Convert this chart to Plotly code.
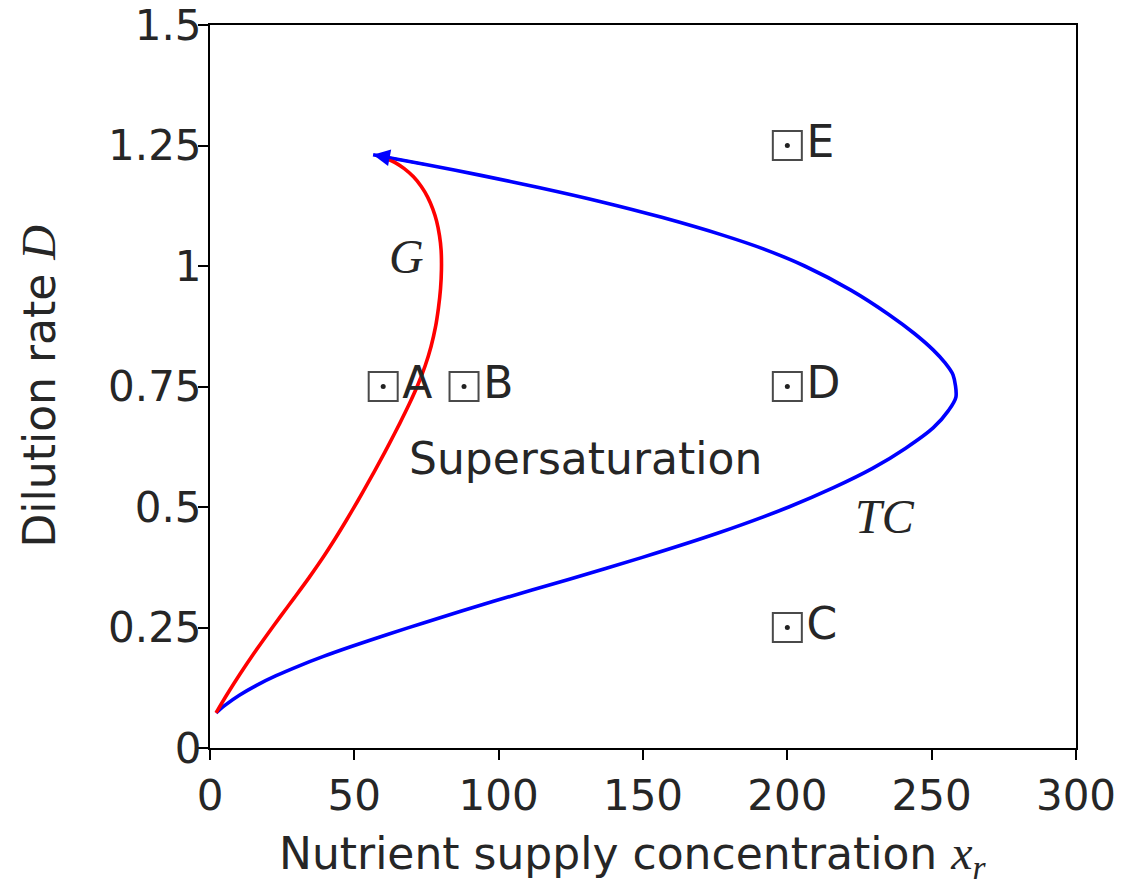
import plotly.graph_objects as go

# Growth boundary G: nutrient supply concentration vs dilution rate
g_xr = [2.1, 6.1, 10.34, 14.82, 19.54, 24.42, 29.38, 34.26, 38.9, 43.22, 47.3, 51.22,
        55.02, 58.7, 62.26, 65.7, 68.98, 71.98, 74.54, 76.58, 78.1, 79.14, 79.86, 80.18,
        80.06, 79.5, 78.5, 77.2, 75.4, 73.2, 70.5, 67.3, 64.3, 61.6, 59.2]
g_d = [0.073, 0.113, 0.153, 0.193, 0.233, 0.273, 0.313, 0.353, 0.393, 0.433, 0.473, 0.513,
       0.553, 0.593, 0.633, 0.673, 0.713, 0.753, 0.793, 0.833, 0.873, 0.913, 0.953, 0.993,
       1.033, 1.063, 1.093, 1.118, 1.143, 1.165, 1.185, 1.202, 1.214, 1.222, 1.228]

# Transcritical boundary TC
tc_xr = [2.1, 5.5, 10.3, 16.1, 22.9, 30.7, 39.3, 48.7, 61.2, 74.2, 98.5, 124.5,
         149.5, 175.5, 200.5, 216.0, 229.5, 241.0, 250.5, 255.8, 258.4, 257.4, 254.5,
         250.5, 244.0, 235.0, 222.0, 206.0, 192.8, 177.6, 156.5, 135.05, 113.85, 93.85,
         75.15, 56.5]
tc_d = [0.073, 0.09, 0.11, 0.13, 0.15, 0.17, 0.19, 0.21, 0.235, 0.26, 0.305, 0.35,
        0.395, 0.445, 0.50, 0.54, 0.58, 0.622, 0.664, 0.70, 0.728, 0.774, 0.80,
        0.826, 0.86, 0.90, 0.95, 1.00, 1.033, 1.064, 1.101, 1.134, 1.163, 1.188,
        1.21, 1.231]

# Operating points
pt_labels = ["A", "B", "C", "D", "E"]
pt_xr = [60, 88, 200, 200, 200]
pt_d = [0.75, 0.75, 0.25, 0.75, 1.25]

x_ticks = [0, 50, 100, 150, 200, 250, 300]
y_ticks = [0, 0.25, 0.5, 0.75, 1, 1.25, 1.5]
y_tick_text = ["0", "0.25", "0.5", "0.75", "1", "1.25", "1.5"]

SANS = "DejaVu Sans"
SERIF = "Liberation Serif"
INK = "#262626"
FS_TICK = 42
FS_TEXT = 44

fig = go.Figure()

fig.add_trace(go.Scatter(x=tc_xr, y=tc_d, mode="lines",
                         line=dict(color="#0000ff", width=3.6, shape="spline",
                                   smoothing=0.8, simplify=False),
                         showlegend=False))
fig.add_trace(go.Scatter(x=g_xr, y=g_d, mode="lines",
                         line=dict(color="#ff0000", width=3.6, shape="spline",
                                   smoothing=0.8, simplify=False),
                         showlegend=False))

# Arrowhead at the end of the TC curve
fig.add_annotation(x=tc_xr[-1], y=tc_d[-1], ax=tc_xr[-2], ay=tc_d[-2],
                   xref="x", yref="y", axref="x", ayref="y",
                   text="", showarrow=True, arrowhead=2, arrowsize=1.4,
                   arrowwidth=2.4, arrowcolor="#0000ff")

# Boxed-dot markers with point labels
fig.add_trace(go.Scatter(
    x=pt_xr, y=pt_d, mode="markers+text",
    marker=dict(symbol="square-open", size=29, color="#4a4a4a",
                line=dict(width=2, color="#4a4a4a")),
    text=pt_labels, textposition="middle right",
    textfont=dict(family=SANS, size=FS_TEXT, color=INK),
    showlegend=False, cliponaxis=False))
fig.add_trace(go.Scatter(
    x=pt_xr, y=pt_d, mode="markers",
    marker=dict(symbol="circle", size=5, color="#222222", line=dict(width=0)),
    showlegend=False, hoverinfo="skip"))

fig.add_annotation(x=130, y=0.6, text="Supersaturation", showarrow=False,
                   font=dict(family=SANS, size=FS_TEXT, color=INK))
fig.add_annotation(x=68, y=1.02, text="<i>G</i>", showarrow=False,
                   font=dict(family=SERIF, size=48, color=INK))
fig.add_annotation(x=234, y=0.48, text="<i>TC</i>", showarrow=False,
                   font=dict(family=SERIF, size=48, color=INK))

# Axis titles
fig.add_annotation(xref="paper", yref="paper", x=0.4885, y=-0.149,
                   text="Nutrient supply concentration "
                        "<span style='font-family:Liberation Serif;font-size:48px'><i>x<sub>r</sub></i></span>",
                   showarrow=False, xanchor="center", yanchor="middle",
                   font=dict(family=SANS, size=FS_TEXT, color=INK))
fig.add_annotation(xref="paper", yref="paper", x=-0.1986, y=0.5,
                   text="Dilution rate "
                        "<span style='font-family:Liberation Serif;font-size:48px'><i>D</i></span>",
                   showarrow=False, textangle=-90, xanchor="center", yanchor="middle",
                   font=dict(family=SANS, size=FS_TEXT, color=INK))

axis_common = dict(showline=True, linecolor="black", linewidth=2, mirror=True,
                   ticks="outside", ticklen=10, tickwidth=2, tickcolor="black",
                   showgrid=False, zeroline=False, automargin=False,
                   tickfont=dict(family=SANS, size=FS_TICK, color=INK))

fig.update_xaxes(range=[0, 300], tickvals=x_ticks, **axis_common)
fig.update_yaxes(range=[0, 1.5], tickvals=y_ticks, ticktext=y_tick_text,
                 ticklabelstandoff=-12, **axis_common)

fig.update_layout(width=1124, height=885, plot_bgcolor="white", paper_bgcolor="white",
                  margin=dict(l=210, r=48, t=25, b=137))

fig.write_html("out.html")
